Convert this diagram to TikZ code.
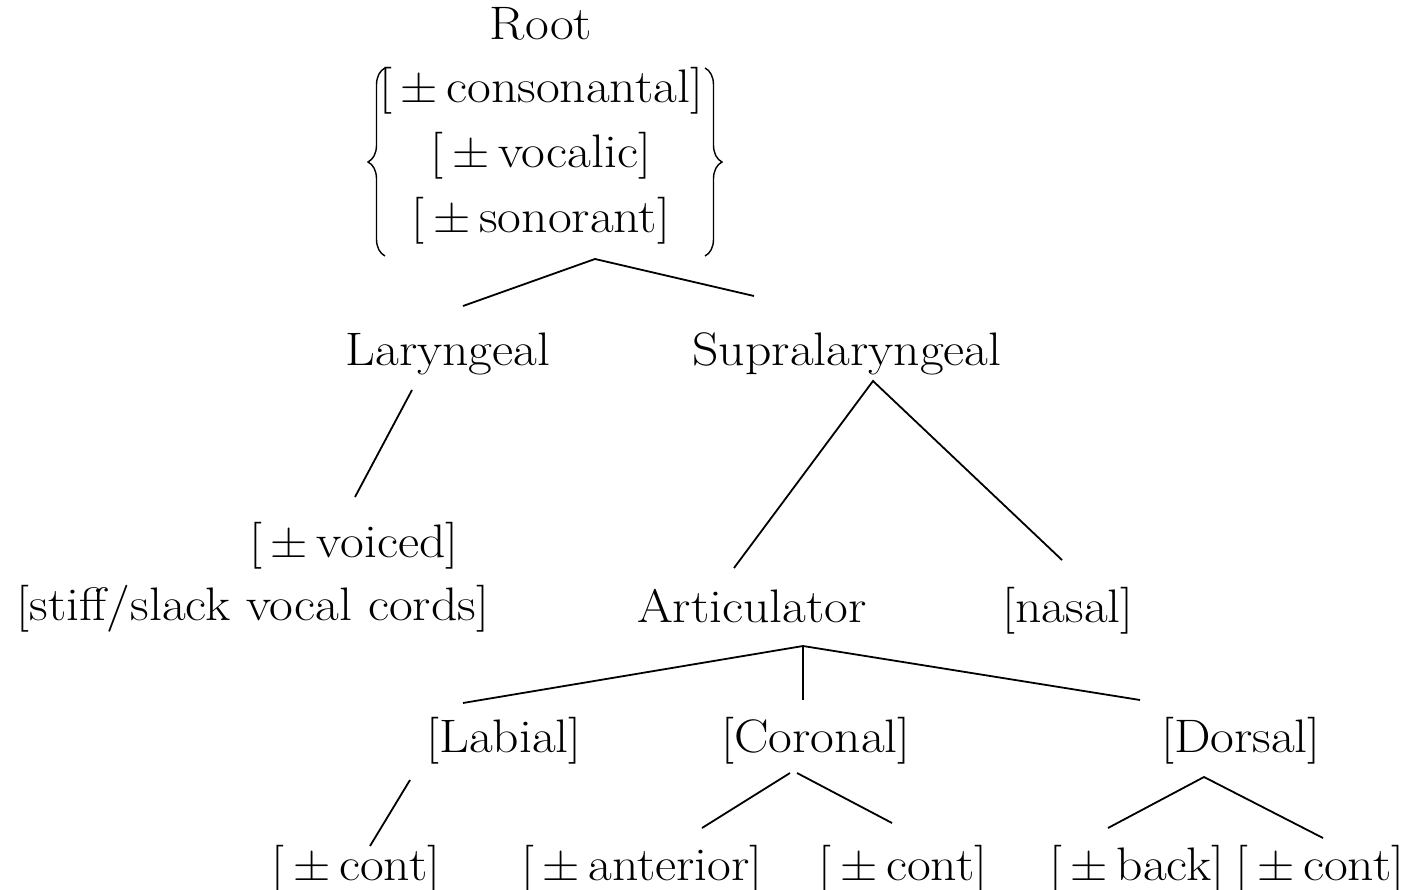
\documentclass[tikz,border=0pt]{standalone}
\usepackage{fontspec}
\usetikzlibrary{decorations.pathreplacing}
\tikzset{
  lbl/.style={anchor=base, inner sep=0pt, font=\fontsize{47}{56}\selectfont, xscale=1.1, transform shape},
  edge/.style={line width=1.8pt},
  bracestyle/.style={line width=1.4pt, decorate, decoration={brace, amplitude=17pt, aspect=0.5}}
}
\newcommand{\pmf}{[\,±\,}
\begin{document}
\begin{tikzpicture}[x=1pt,y=-1pt]
\useasboundingbox (0,0) rectangle (1418,890);
% nodes
\node[lbl] (root) at (541,40) {Root};
\node[lbl] (cons) at (541,103) {\pmf consonantal]};
\node[lbl] (voc) at (541,168) {\pmf vocalic]};
\node[lbl] (son) at (541,233) {\pmf sonorant]};
\node[lbl] (lar) at (448,365) {Laryngeal};
\node[lbl] (supra) at (847,365) {Supralaryngeal};
\node[lbl] (voi) at (354,557) {\pmf voiced]};
\node[lbl] (stiff) at (253,620) {[stiff/slack vocal cords]};
\node[lbl] (art) at (752,622) {Articulator};
\node[lbl] (nas) at (1068,622) {[nasal]};
\node[lbl] (lab) at (504,752) {[Labial]};
\node[lbl] (cor) at (816,752) {[Coronal]};
\node[lbl] (dor) at (1241,752) {[Dorsal]};
\node[lbl] (c1) at (356,880) {\pmf cont]};
\node[lbl] (ant) at (642,880) {\pmf anterior]};
\node[lbl] (c2) at (903,880) {\pmf cont]};
\node[lbl] (back) at (1137,880) {\pmf back]};
\node[lbl] (c3) at (1320,880) {\pmf cont]};
% braces
\coordinate (lbB) at (385,256);
\coordinate (lbT) at (385,68);
\coordinate (rbT) at (705,68);
\coordinate (rbB) at (705,256);
\draw[bracestyle] (lbB) -- (lbT);
\draw[bracestyle] (rbT) -- (rbB);
% connector end points
\coordinate (rootA) at (595,259);
\coordinate (larT) at (463,306);
\coordinate (supraT) at (754,296);
\coordinate (larB) at (412,390);
\coordinate (voiT) at (355,497);
\coordinate (supraA) at (873,381);
\coordinate (artT) at (734,568);
\coordinate (nasT) at (1062,560);
\coordinate (artA) at (803,646);
\coordinate (labT) at (463,703);
\coordinate (corT) at (803,700);
\coordinate (dorT) at (1140,700);
\coordinate (labB) at (410,780);
\coordinate (c1T) at (370,846);
\coordinate (corAL) at (790,773);
\coordinate (corAR) at (797,773);
\coordinate (antT) at (702,828);
\coordinate (c2T) at (892,823);
\coordinate (dorA) at (1204,777);
\coordinate (backT) at (1108,828);
\coordinate (c3T) at (1323,838);
% connectors
\draw[edge] (larT) -- (rootA) -- (supraT);
\draw[edge] (larB) -- (voiT);
\draw[edge] (artT) -- (supraA) -- (nasT);
\draw[edge] (labT) -- (artA) -- (dorT);
\draw[edge] (artA) -- (corT);
\draw[edge] (labB) -- (c1T);
\draw[edge] (antT) -- (corAL);
\draw[edge] (corAR) -- (c2T);
\draw[edge] (backT) -- (dorA) -- (c3T);
\end{tikzpicture}
\end{document}
